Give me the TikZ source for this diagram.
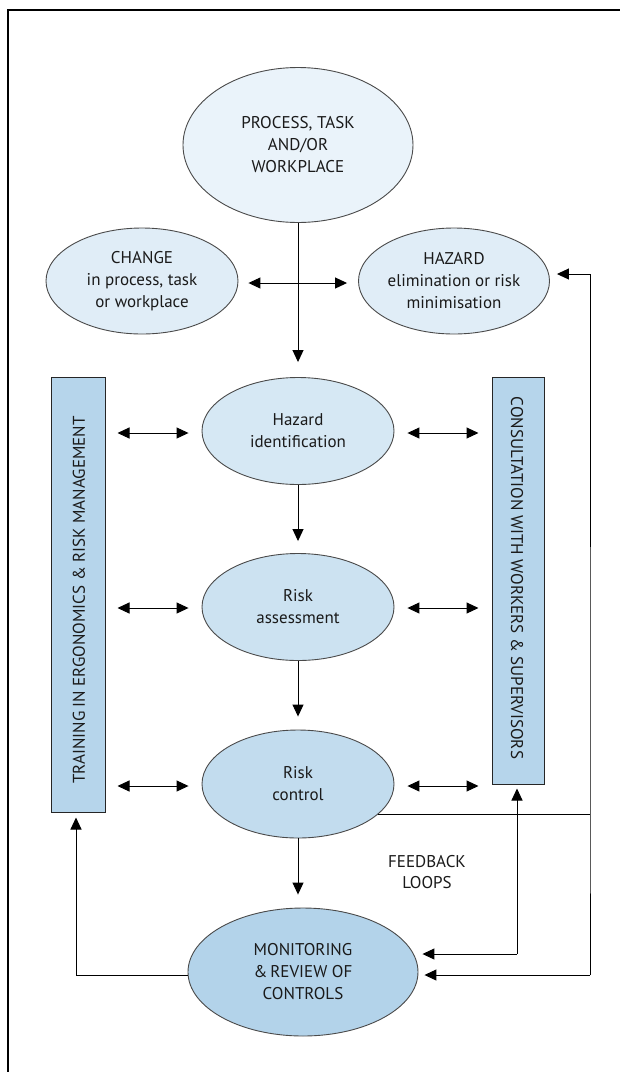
\documentclass[tikz,border=0pt]{standalone}
\usepackage{fontspec}
\setmainfont{PT Sans}
\usetikzlibrary{shapes.geometric,arrows.meta,calc}
\definecolor{fTop}{HTML}{EAF3FA}
\definecolor{fSide}{HTML}{E0EDF7}
\definecolor{fHid}{HTML}{D6E8F4}
\definecolor{fRa}{HTML}{CCE2F1}
\definecolor{fRc}{HTML}{C2DCEE}
\definecolor{fMon}{HTML}{B3D3EA}
\definecolor{fBar}{HTML}{B6D5EB}
\definecolor{txt}{HTML}{1A1A1A}
\definecolor{edge}{HTML}{4A4A4A}
\tikzset{
  ell/.style={ellipse, draw=edge, line width=0.9pt, inner sep=0pt, align=center,
    text=txt, font=\fontsize{17}{22}\selectfont},
  bar/.style={rectangle, draw=black!85, line width=1pt, inner sep=0pt},
  barlabel/.style={text=txt, font=\fontsize{17}{20}\selectfont},
  conn/.style={line width=1pt, -{Triangle[length=12pt,width=11pt]}},
  dconn/.style={line width=1pt, {Triangle[length=12pt,width=11pt]}-{Triangle[length=12pt,width=11pt]}},
  plain/.style={line width=1pt}
}
\begin{document}
\begin{tikzpicture}[x=1pt,y=-1pt]
\useasboundingbox (0,0) rectangle (620,1072);
% frame
\draw[line width=1.1pt] (8,1072) -- (8,10) -- (620,10);

% nodes
\node[ell, fill=fTop, minimum width=230pt, minimum height=155pt] (top) at (298,145)
  {PROCESS, TASK\\AND/OR\\WORKPLACE};
\node[ell, fill=fSide, minimum width=192pt, minimum height=106pt] (change) at (142,281)
  {CHANGE\\in process, task\\or workplace};
\node[ell, fill=fSide, minimum width=191pt, minimum height=106pt] (hazard) at (454,281)
  {HAZARD\\elimination or risk\\minimisation};
\node[ell, fill=fHid, minimum width=192pt, minimum height=107pt] (hid) at (298,431)
  {Hazard\\identification};
\node[ell, fill=fRa, minimum width=192pt, minimum height=107pt] (ra) at (298,607)
  {Risk\\assessment};
\node[ell, fill=fRc, minimum width=192pt, minimum height=108pt] (rc) at (298,784)
  {Risk\\control};
\node[ell, fill=fMon, minimum width=230pt, minimum height=128pt] (mon) at (303,972)
  {MONITORING\\\&\,REVIEW OF\\CONTROLS};

\node[bar, fill=fBar, minimum width=54pt, minimum height=435pt] (train) at (78,594.5) {};
\node[barlabel, rotate=90] (trainlbl) at (79,600) {TRAINING IN ERGONOMICS \& RISK MANAGEMENT};
\node[bar, fill=fBar, minimum width=52pt, minimum height=407pt] (cons) at (518,580.5) {};
\node[barlabel, rotate=-90] (conslbl) at (517,578) {CONSULTATION WITH WORKERS \& SUPERVISORS};

\node[text=txt, align=center, font=\fontsize{17}{21}\selectfont] (fb) at (427,872) {FEEDBACK\\LOOPS};

% main flow
\draw[conn, shorten >=15pt] (top) -- (hid);
\draw[conn, shorten >=12pt] (hid) -- (ra);
\draw[conn, shorten >=13pt] (ra) -- (rc);
\draw[conn, shorten >=13pt] (rc.south) -- (rc.south |- mon.north);

% change <-> hazard
\coordinate (midrow) at (298,283);
\draw[dconn, shorten <=10pt, shorten >=11pt] (change.east |- midrow) -- (hazard.west |- midrow);

% bars <-> ellipses
\foreach \n/\yy in {hid/433, ra/608, rc/786} {
  \draw[dconn, shorten <=12pt, shorten >=13pt] (train.east |- 0,\yy) -- (\n.west |- 0,\yy);
  \draw[dconn, shorten <=13pt, shorten >=13pt] (\n.east |- 0,\yy) -- (cons.west |- 0,\yy);
}

% feedback loops
\coordinate (fbx) at (590,814);
\coordinate (rcout) at ($(rc.center)+(80,30)$);
\draw[plain] (rcout) -- (fbx);
\draw[conn, shorten >=7pt] (590,975) -- (fbx) |- (hazard.east |- 0,274);
\draw[conn, shorten >=6pt] (590,975) -- (mon.east |- 0,975);
\draw[conn, shorten >=5pt] (mon.west |- 0,975) -| (train.south -| 76,0);
\draw[conn, shorten >=4pt] (517,954) -- (mon.east |- 0,954);
\draw[conn, shorten >=4pt] (517,954) -- (cons.south -| 517,0);
\end{tikzpicture}
\end{document}
